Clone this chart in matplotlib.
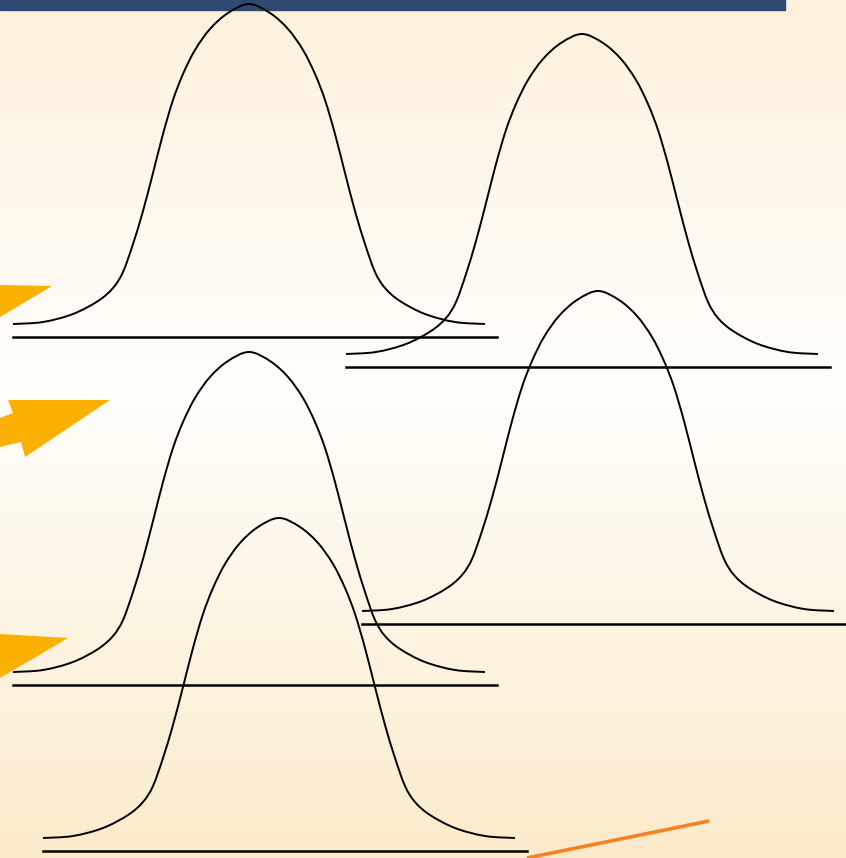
import numpy as np
import matplotlib.pyplot as plt
from matplotlib.colors import LinearSegmentedColormap
from matplotlib.patches import Polygon, Rectangle, PathPatch
from matplotlib.path import Path

W, H = 846, 858

# bell curve outline: offset from left end (px) and rise above the end (px)
profile_dx = [0, 30, 60, 85, 100, 110, 120, 130, 140, 150, 160, 170, 182, 197, 215, 236,
              257, 275, 290, 302, 312, 322, 332, 342, 352, 362, 372, 387, 412, 442, 472]
profile_rise = [0, 2, 10, 23, 36, 52, 80, 113, 151, 190, 224, 250, 274, 295, 311, 320,
                311, 295, 274, 250, 224, 190, 151, 113, 80, 52, 36, 23, 10, 2, 0]

# left end of each curve (x, y of the tail)
curve_x = [13, 346, 362, 13, 43]
curve_y = [324, 354, 611, 672, 838]
# axis line under each curve
base_gap = 13
base_extra = 12

arrows = [
    [(0, 285), (52, 286), (0, 317)],
    [(0, 418), (13, 413), (8, 400), (110, 400), (25, 457), (21, 442), (0, 447)],
    [(0, 634), (68, 638), (0, 678)],
]
orange_line = [(527, 858), (709, 821)]


def smooth_path(pts):
    # catmull-rom through the points, written as cubic bezier segments
    pts = np.asarray(pts, dtype=float)
    ext = np.vstack([pts[0], pts, pts[-1]])
    verts = [pts[0]]
    codes = [Path.MOVETO]
    for i in range(1, len(ext) - 2):
        p0, p1, p2, p3 = ext[i - 1], ext[i], ext[i + 1], ext[i + 2]
        verts += [p1 + (p2 - p0) / 6, p2 - (p3 - p1) / 6, p2]
        codes += [Path.CURVE4] * 3
    return Path(verts, codes)


fig = plt.figure(figsize=(W / 100, H / 100), dpi=100)
ax = fig.add_axes([0, 0, 1, 1])
ax.set_xlim(0, W)
ax.set_ylim(H, 0)
ax.axis('off')

# cream -> white -> cream background
bg = LinearSegmentedColormap.from_list('bg', [(0, '#FDF1DC'), (0.45, '#FFFEFB'), (1, '#FBEBCB')])
grad = np.linspace(0, 1, 256).reshape(-1, 1)
ax.imshow(grad, cmap=bg, extent=[0, W, H, 0], aspect='auto', zorder=0)

ax.add_patch(Rectangle((0, 0), 785, 10, color='#2F4A71', zorder=1))

for pts in arrows:
    ax.add_patch(Polygon(pts, closed=True, color='#FAB000', lw=0, zorder=2))

ax.plot([p[0] for p in orange_line], [p[1] for p in orange_line], color='#F5821F', lw=2.6,
        solid_capstyle='butt', zorder=2)

dx = np.array(profile_dx)
rise = np.array(profile_rise)
for x0, y0 in zip(curve_x, curve_y):
    path = smooth_path(np.column_stack([x0 + dx, y0 - rise]))
    ax.add_patch(PathPatch(path, facecolor='none', edgecolor='black', lw=1.4, zorder=3))
    ax.plot([x0, x0 + dx[-1] + base_extra], [y0 + base_gap, y0 + base_gap],
            color='black', lw=1.8, zorder=3)

fig.savefig('out.png', dpi=100)
